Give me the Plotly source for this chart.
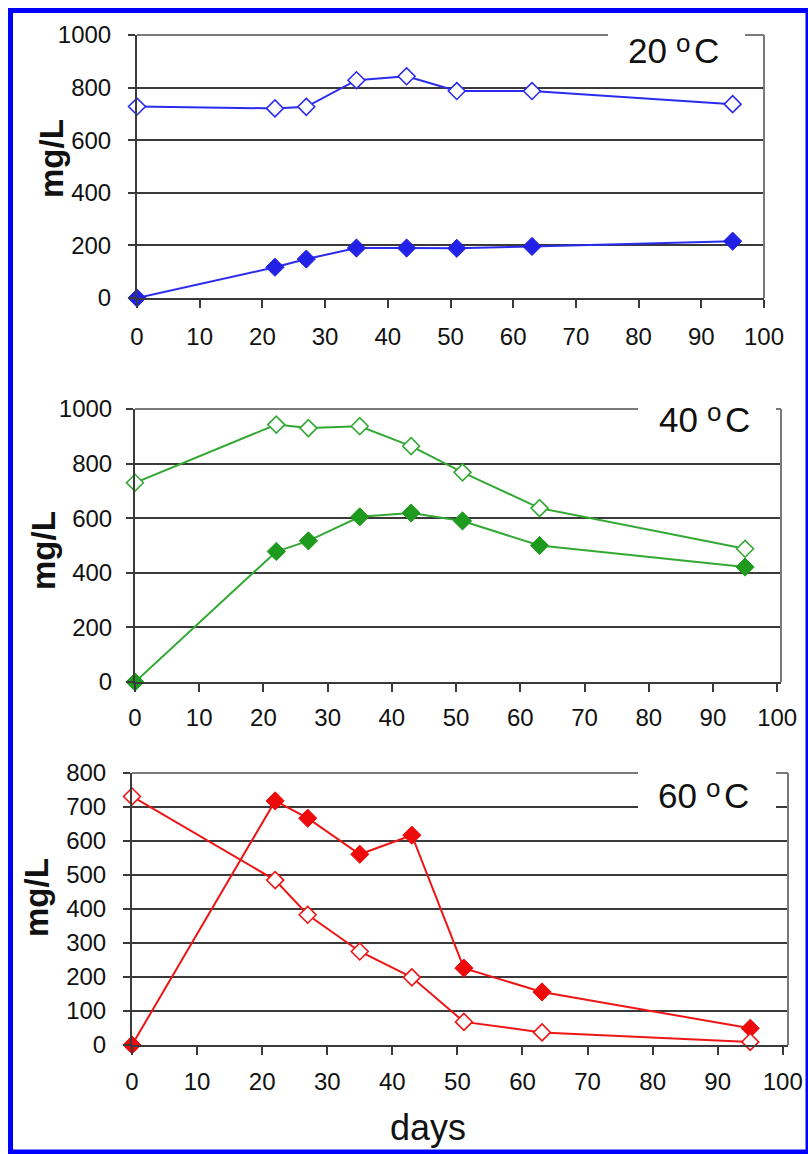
import plotly.graph_objects as go

# ---------------- data ----------------
days = [0, 22, 27, 35, 43, 51, 63, 95]

open_20 = [728, 721, 727, 828, 843, 787, 787, 737]
filled_20 = [0, 117, 148, 190, 190, 189, 196, 216]

open_40 = [730, 943, 930, 937, 864, 768, 637, 488]
filled_40 = [0, 478, 517, 605, 619, 590, 500, 421]

open_60 = [731, 485, 383, 275, 199, 68, 37, 9]
filled_60 = [0, 718, 667, 561, 617, 226, 156, 49]

x_ticks = [0, 10, 20, 30, 40, 50, 60, 70, 80, 90, 100]
temps = ["20", "40", "60"]

# ---------------- layout constants ----------------
W, H = 808, 1154
FONT = "Liberation Sans, Arial, sans-serif"


def px(x):
    return x / W


def py(y):
    return 1 - y / H


panels = [
    dict(x0=137, xf=764, xmax=100.0, yt=35, yb=298, ymax=1000, dtick=200,
         color="#2B2BEE", fill="#2222E6", sx=8, sy=12, box=(608, 745, 30, 72),
         lab=(626, 38)),
    dict(x0=135, xf=781, xmax=100.6, yt=409, yb=682, ymax=1000, dtick=200,
         color="#33A833", fill="#1E9A1E", sx=5, sy=9, box=(638, 776, 398, 440),
         lab=(657, 407)),
    dict(x0=132, xf=788, xmax=100.8, yt=773, yb=1045, ymax=800, dtick=100,
         color="#EE1515", fill="#EE0A0A", sx=6, sy=12, box=(638, 776, 770, 820),
         lab=(656, 783)),
]
series = [(open_20, filled_20), (open_40, filled_40), (open_60, filled_60)]

fig = go.Figure()
frame_shapes = []
box_shapes = []
annotations = []
layout_axes = {}

for i, (p, (op, fl)) in enumerate(zip(panels, series)):
    n = "" if i == 0 else str(i + 1)
    xa, ya = "x" + n, "y" + n
    # filled series
    fig.add_trace(go.Scatter(
        x=days, y=fl, xaxis=xa, yaxis=ya, mode="lines+markers",
        line=dict(color=p["color"], width=2),
        marker=dict(symbol="diamond", size=14, color=p["fill"],
                    line=dict(color=p["fill"], width=1)),
        cliponaxis=False, showlegend=False))
    # open series
    fig.add_trace(go.Scatter(
        x=days, y=op, xaxis=xa, yaxis=ya, mode="lines+markers",
        line=dict(color=p["color"], width=2),
        marker=dict(symbol="diamond", size=13, color="white",
                    line=dict(color=p["color"], width=1.6)),
        cliponaxis=False, showlegend=False))

    layout_axes["xaxis" + n] = dict(
        domain=[px(p["x0"]), px(p["xf"])], range=[0, p["xmax"]],
        anchor=ya, tickmode="array", tickvals=x_ticks,
        ticktext=[str(t) for t in x_ticks],
        showgrid=False, zeroline=False, showline=True,
        linecolor="#3a3a3a", linewidth=2, ticks="outside", ticklen=8,
        tickwidth=2, tickcolor="#3a3a3a", ticklabelstandoff=p["sx"],
        tickfont=dict(family=FONT, size=24, color="#111"))
    layout_axes["yaxis" + n] = dict(
        domain=[py(p["yb"]), py(p["yt"])], range=[0, p["ymax"]],
        anchor=xa, dtick=p["dtick"], showgrid=True, gridcolor="#3a3a3a",
        gridwidth=2, zeroline=False, showline=True, linecolor="#3a3a3a",
        linewidth=2, ticks="outside", ticklen=7, tickwidth=2,
        tickcolor="#3a3a3a", ticklabelstandoff=p["sy"],
        tickfont=dict(family=FONT, size=24, color="#111"))

    # right and top frame (grey)
    frame_shapes.append(dict(type="line", xref="paper", yref="paper",
                             x0=px(p["xf"]), x1=px(p["xf"]), y0=py(p["yb"]), y1=py(p["yt"]),
                             line=dict(color="#7a7a7a", width=2), layer="above"))
    frame_shapes.append(dict(type="line", xref="paper", yref="paper",
                             x0=px(p["x0"]), x1=px(p["xf"]), y0=py(p["yt"]), y1=py(p["yt"]),
                             line=dict(color="#7a7a7a", width=2), layer="above"))

    # white label box
    bx0, bx1, by0, by1 = p["box"]
    box_shapes.append(dict(type="rect", xref="paper", yref="paper",
                           x0=px(bx0), x1=px(bx1), y0=py(by1), y1=py(by0),
                           fillcolor="white", line=dict(width=0), layer="above"))

    # label text "NN oC"
    lx, ly = p["lab"]
    annotations.append(dict(
        text=temps[i], xref="paper", yref="paper", x=px(lx), y=py(ly + 12.5),
        xanchor="left", yanchor="middle", showarrow=False,
        font=dict(family=FONT, size=35, color="#111")))
    annotations.append(dict(
        text="o", xref="paper", yref="paper", x=px(lx + 48), y=py(ly + 5),
        xanchor="left", yanchor="middle", showarrow=False,
        font=dict(family=FONT, size=26, color="#111")))
    annotations.append(dict(
        text="C", xref="paper", yref="paper", x=px(lx + 66), y=py(ly + 12.5),
        xanchor="left", yanchor="middle", showarrow=False,
        font=dict(family=FONT, size=35, color="#111")))

# y axis titles
for (xc, yc) in [(52, 159), (43, 551), (36, 898)]:
    annotations.append(dict(
        text="<b>mg/L</b>", xref="paper", yref="paper", x=px(xc), y=py(yc),
        xanchor="center", yanchor="middle", textangle=-90, showarrow=False,
        font=dict(family=FONT, size=33, color="#111")))

# x axis title
annotations.append(dict(
    text="days", xref="paper", yref="paper", x=px(428), y=py(1127),
    xanchor="center", yanchor="middle", showarrow=False,
    font=dict(family=FONT, size=36, color="#111")))

# blue outer border
border = dict(type="rect", xref="paper", yref="paper",
              x0=px(10.5), x1=px(808), y0=py(1152), y1=py(10.5),
              line=dict(color="#0000FF", width=5), layer="above")

fig.update_layout(
    width=W, height=H, margin=dict(l=0, r=0, t=0, b=0, autoexpand=False),
    paper_bgcolor="white", plot_bgcolor="white", showlegend=False,
    shapes=frame_shapes + box_shapes + [border], annotations=annotations,
    **layout_axes)

fig.write_html("out.html")
